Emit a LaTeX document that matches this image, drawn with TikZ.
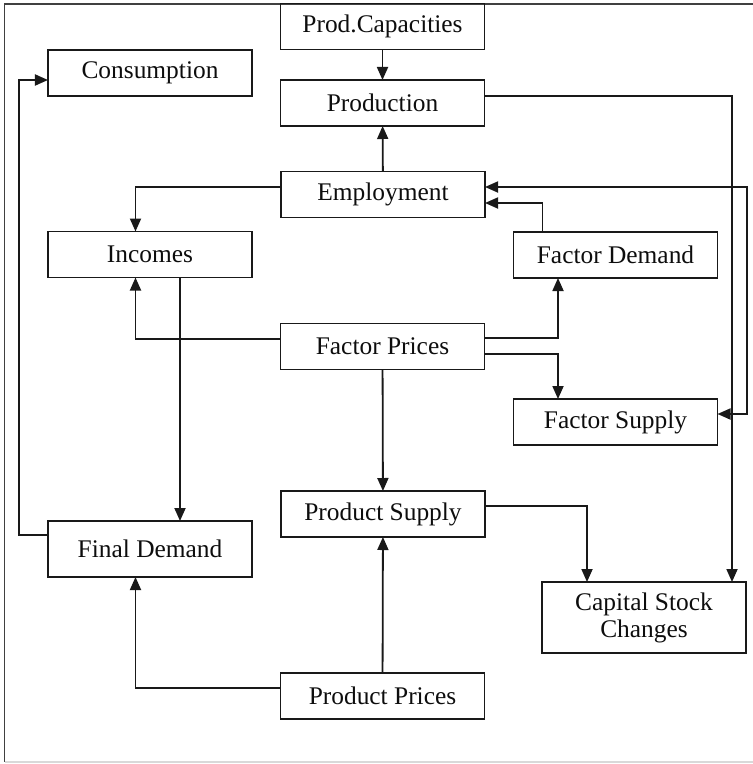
\documentclass[tikz,border=0pt]{standalone}
\usepackage{fontspec}
\setmainfont{Liberation Serif}
\usetikzlibrary{arrows.meta}
\begin{document}
\begin{tikzpicture}[x=1bp,y=-1bp,
  box/.style={draw=black!90, line width=1.5bp, minimum width=204bp, minimum height=46bp,
    inner sep=0pt, outer sep=0pt, align=center, text=black!95,
    font=\fontsize{25.5}{27}\selectfont},
  link/.style={draw=black!90, line width=1.8bp},
  thinlink/.style={draw=black!90, line width=1.4bp},
  tip/.style={-{Triangle[length=13bp,width=11bp]}},
  arr/.style={link, tip},
  thinarr/.style={thinlink, tip},
  biarr/.style={link, {Triangle[length=13bp,width=11bp]}-{Triangle[length=13bp,width=11bp]}}]
\useasboundingbox (0,0) rectangle (753,764);
% outer frame
\draw[black!75, line width=1.4bp] (753,4) -- (4.5,4) -- (4.5,762);
\draw[black!15, line width=1.4bp] (4.5,762) -- (753,762);

% boxes
\node[box] (cap)   at (382.5,26.5) {Prod.Capacities};
\node[box] (prod)  at (382.5,103)  {Production};
\node[box] (emp)   at (383,194.5)  {Employment};
\node[box] (cons)  at (150,73)     {Consumption};
\node[box] (inc)   at (150,254.5)  {Incomes};
\node[box] (fdem)  at (615.5,255)  {Factor Demand};
\node[box] (fpr)   at (382.5,346.5){Factor Prices};
\node[box] (fsup)  at (615.5,422)  {Factor Supply};
\node[box] (psup)  at (383,514)    {Product Supply};
\node[box, minimum height=56bp] (final) at (150,549) {Final Demand};
\node[box, minimum height=71bp] (csc) at (644,617.5) {Capital Stock\\Changes};
\node[box] (pp)    at (382.5,696)  {Product Prices};

% vertical rails
\coordinate (lrail) at (19,0);
\coordinate (irail) at (135.5,0);
\coordinate (drail) at (180,0);
\coordinate (frail) at (558,0);
\coordinate (erail) at (542.5,0);
\coordinate (srail) at (587,0);
\coordinate (prail) at (732,0);
\coordinate (brail) at (747,0);

% connectors
\draw[arr] (cap) -- (prod);
\draw[arr] (emp) -- (prod);
\draw[arr] ([yshift=7bp]prod.east) -| (csc.north -| prail);
\draw[biarr] ([yshift=7.5bp]emp.east) -| ([yshift=8bp]fsup.east -| brail) -- ([yshift=8bp]fsup.east);
\draw[arr] (fdem.north -| erail) |- ([yshift=-8.5bp]emp.east);
\draw[arr] ([yshift=8.5bp]fpr.east) -| (fdem.south -| frail);
\draw[arr] ([yshift=-7.5bp]fpr.east) -| (fsup.north -| frail);
\draw[arr] ([yshift=7.5bp]emp.west) -| (inc.north -| irail);
\draw[arr] ([yshift=7.5bp]fpr.west) -| (inc.south -| irail);
\draw[arr] (inc.south -| drail) -- (final.north -| drail);
\draw[arr] (fpr) -- (psup);
\draw[arr] (pp) -- (psup);
\draw[arr] ([yshift=8bp]pp.west) -| (final.south -| irail);
\draw[arr] ([yshift=8bp]psup.east) -| (csc.north -| srail);
\draw[arr] ([yshift=14bp]final.west) -| ([yshift=-7bp]cons.west -| lrail) -- ([yshift=-7bp]cons.west);
\end{tikzpicture}
\end{document}
